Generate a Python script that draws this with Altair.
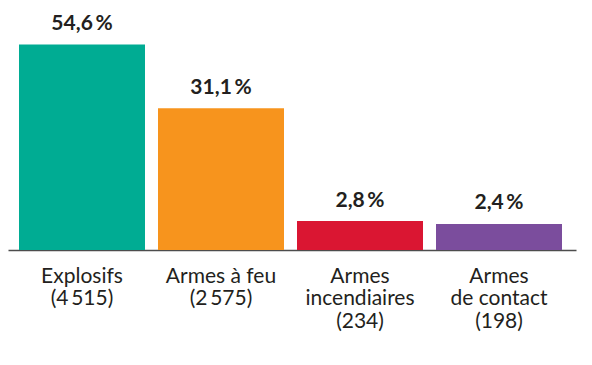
import altair as alt
import pandas as pd

categories = ["Explosifs\n(4\u2009515)", "Armes à feu\n(2\u2009575)",
              "Armes\nincendiaires\n(234)", "Armes\nde contact\n(198)"]
shares = [54.6, 31.1, 2.8, 2.4]
share_labels = ["54,6\u2009%", "31,1\u2009%", "2,8\u2009%", "2,4\u2009%"]
colors = ["#00AC93", "#F7941D", "#DA1632", "#7B4D9D"]

df = pd.DataFrame({"cat": categories, "share": shares, "label": share_labels})

FONT = "Lato"
TXT = "#231F20"

x = alt.X("cat:N", sort=categories, title=None,
          scale=alt.Scale(paddingInner=0.0935, paddingOuter=0.0899, align=0.44),
          axis=alt.Axis(labelExpr="split(datum.label, '\\n')", labelAngle=0,
                        labelFont=FONT, labelFontSize=21, labelLineHeight=22.5,
                        labelColor=TXT, labelBaseline="alphabetic", labelPadding=32,
                        ticks=False, tickSize=0, domainColor="#4d4d4d", domainWidth=1.5,
                        labelOverlap=False, labelLimit=0))
y = alt.Y("share:Q", title=None, axis=None,
          scale=alt.Scale(type="pow", exponent=0.66, domain=[0, 70], nice=False))

bars = alt.Chart(df).mark_bar(size=126).encode(
    x=x, y=y,
    color=alt.Color("cat:N", sort=categories,
                    scale=alt.Scale(domain=categories, range=colors), legend=None),
)
texts = alt.Chart(df).mark_text(font=FONT, fontSize=21, fontWeight="bold", color=TXT,
                                baseline="alphabetic", dy=-14.5).encode(
    x=alt.X("cat:N", sort=categories), y=alt.Y("share:Q"), text="label:N")

chart = (bars + texts).properties(
    width=568, height=242,
    autosize=alt.AutoSizeParams(type="none"),
    padding={"left": 0, "top": 0, "right": 8, "bottom": 100},
).configure_view(stroke=None)

chart.save("out.html", embed_options={"renderer": "svg", "actions": False})
